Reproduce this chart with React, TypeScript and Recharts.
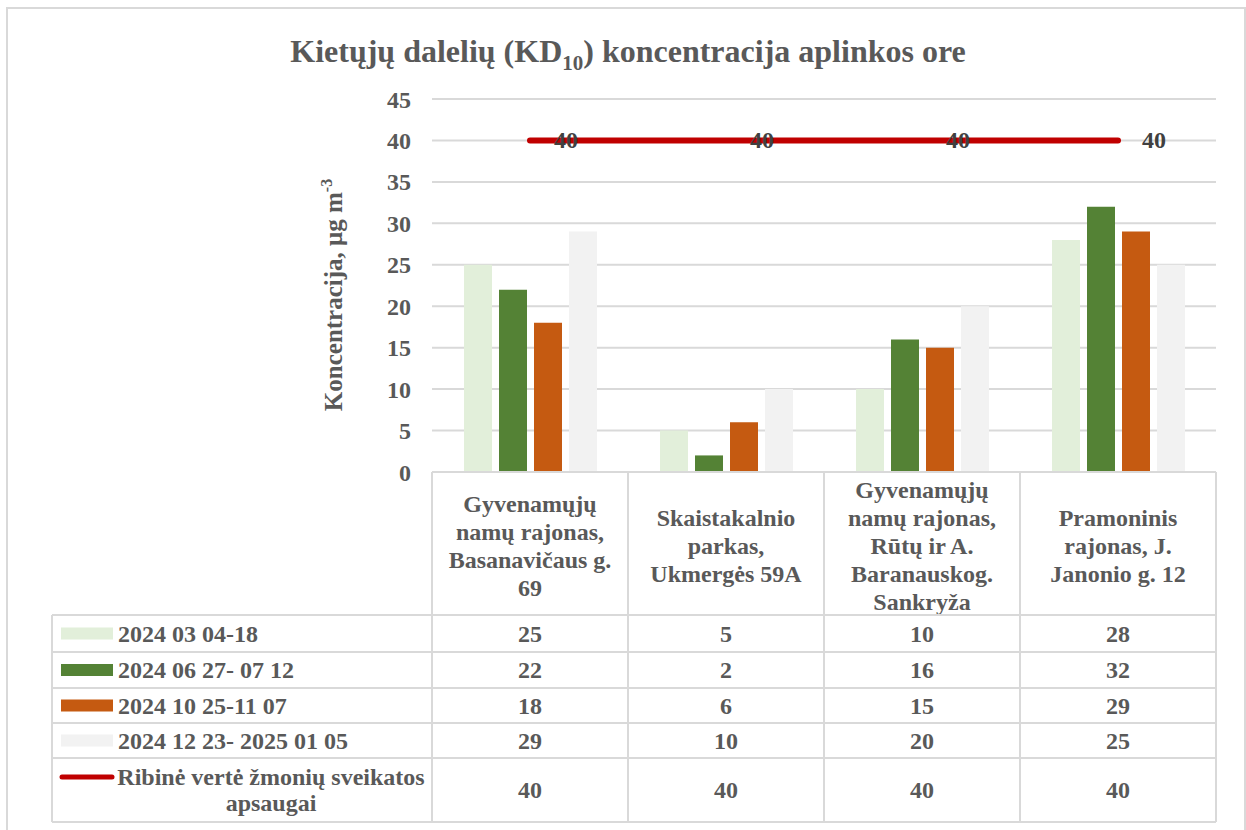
import { ComposedChart, Bar, Line, XAxis, YAxis, CartesianGrid, LabelList } from "recharts"

// categories (line breaks follow the original cell wrapping)
const categories = [
  "Gyvenamųjų\nnamų rajonas,\nBasanavičaus g.\n69",
  "Skaistakalnio\nparkas,\nUkmergės 59A",
  "Gyvenamųjų\nnamų rajonas,\nRūtų ir A.\nBaranauskog.\nSankryža",
  "Pramoninis\nrajonas, J.\nJanonio g. 12",
]

const seriesNames = ["2024 03 04-18", "2024 06 27- 07 12", "2024 10 25-11 07", "2024 12 23- 2025 01 05"]
const seriesColors = ["#E2EFDA", "#548235", "#C55A11", "#F2F2F2"]

const march = [25, 5, 10, 28]
const july = [22, 2, 16, 32]
const november = [18, 6, 15, 29]
const december = [29, 10, 20, 25]

const limitName = "Ribinė vertė žmonių sveikatos apsaugai"
const limit = [40, 40, 40, 40]

const yTicks = [0, 5, 10, 15, 20, 25, 30, 35, 40, 45]

const series = [march, july, november, december]
const data = categories.map((name, i) => ({
  name,
  s0: march[i],
  s1: july[i],
  s2: november[i],
  s3: december[i],
  limit: limit[i],
}))

// layout
const W = 1246
const H = 830
const PLOT_LEFT = 432
const PLOT_RIGHT = 1216
const PLOT_TOP = 99
const PLOT_BOTTOM = 472
const COL_W = (PLOT_RIGHT - PLOT_LEFT) / categories.length
const TABLE_LEFT = 52
const ROW_Y = [615, 652, 688, 723, 758, 822]
const HEADER_MID = 546
const GRID = "#d9d9d9"
const TEXT = "#595959"
const FONT = '"Liberation Serif", "Times New Roman", serif'
const FS = 24

function CategoryTick(props: any) {
  const { x, payload } = props
  const lines = String(payload.value).split("\n")
  return (
    <text textAnchor="middle" fill={TEXT} style={{ fontFamily: FONT, fontWeight: 700, fontSize: FS }}>
      {lines.map((l, i) => (
        <tspan key={i} x={x} y={HEADER_MID + (i - (lines.length - 1) / 2) * 28} dominantBaseline="central">
          {l}
        </tspan>
      ))}
    </text>
  )
}

function LimitLabel(props: any) {
  const { x, y, value } = props
  return (
    <text
      x={x + 36}
      y={y}
      textAnchor="middle"
      dominantBaseline="central"
      fill="#404040"
      style={{ fontFamily: FONT, fontWeight: 700, fontSize: FS }}
    >
      {value}
    </text>
  )
}

function Overlay() {
  const rows = [...seriesNames, limitName]
  const values = [...series, limit]
  return (
    <svg
      width={W}
      height={H}
      style={{ position: "absolute", left: 0, top: 0, pointerEvents: "none" }}
      fontFamily={FONT}
      fontWeight={700}
    >
      {/* outer chart border */}
      <rect x={7} y={8} width={1238} height={H} fill="none" stroke={GRID} strokeWidth={2} />

      {/* title */}
      <text x={628} y={62} textAnchor="middle" fill={TEXT} fontSize={32}>
        Kietųjų dalelių (KD
        <tspan fontSize={21} dy={8}>10</tspan>
        <tspan dy={-8}>) koncentracija aplinkos ore</tspan>
      </text>

      {/* y axis title */}
      <text transform="translate(342 295) rotate(-90)" textAnchor="middle" fill={TEXT} fontSize={25}>
        Koncentracija, μg m
        <tspan fontSize={16} dy={-10}>-3</tspan>
      </text>

      {/* table grid */}
      <line x1={PLOT_LEFT} x2={PLOT_RIGHT} y1={PLOT_BOTTOM} y2={PLOT_BOTTOM} stroke={GRID} strokeWidth={2} />
      {ROW_Y.map((y) => (
        <line key={y} x1={TABLE_LEFT} x2={PLOT_RIGHT} y1={y} y2={y} stroke={GRID} strokeWidth={2} />
      ))}
      <line x1={TABLE_LEFT} x2={TABLE_LEFT} y1={ROW_Y[0]} y2={ROW_Y[ROW_Y.length - 1]} stroke={GRID} strokeWidth={2} />
      {categories.concat([""]).map((_, i) => (
        <line
          key={i}
          x1={PLOT_LEFT + i * COL_W}
          x2={PLOT_LEFT + i * COL_W}
          y1={PLOT_BOTTOM}
          y2={ROW_Y[ROW_Y.length - 1]}
          stroke={GRID}
          strokeWidth={2}
        />
      ))}

      {/* rows */}
      {rows.map((name, r) => {
        const mid = (ROW_Y[r] + ROW_Y[r + 1]) / 2
        const isLine = r === rows.length - 1
        return (
          <g key={name}>
            {isLine ? (
              <line x1={62} x2={112} y1={mid - 13} y2={mid - 13} stroke="#C00000" strokeWidth={5} strokeLinecap="round" />
            ) : (
              <rect x={61} y={mid - 6} width={52} height={12} fill={seriesColors[r]} />
            )}
            {isLine ? (
              <text textAnchor="middle" fill={TEXT} fontSize={FS}>
                <tspan x={271} y={mid - 13} dominantBaseline="central">Ribinė vertė žmonių sveikatos</tspan>
                <tspan x={271} y={mid + 13} dominantBaseline="central">apsaugai</tspan>
              </text>
            ) : (
              <text x={118} y={mid} dominantBaseline="central" fill={TEXT} fontSize={FS}>
                {name}
              </text>
            )}
            {values[r].map((v, c) => (
              <text
                key={c}
                x={PLOT_LEFT + (c + 0.5) * COL_W}
                y={mid}
                textAnchor="middle"
                dominantBaseline="central"
                fill={TEXT}
                fontSize={FS}
              >
                {v}
              </text>
            ))}
          </g>
        )
      })}
    </svg>
  )
}

export default function App() {
  return (
    <div style={{ position: "absolute", left: 0, top: 0, width: W, height: H, background: "#fff" }}>
      <ComposedChart
        width={W}
        height={H}
        data={data}
        margin={{ top: PLOT_TOP, right: W - PLOT_RIGHT, bottom: H - PLOT_BOTTOM - 143, left: 0 }}
        barSize={28}
        barGap={7}
      >
        <CartesianGrid vertical={false} stroke={GRID} strokeWidth={2} />
        <XAxis dataKey="name" height={143} axisLine={false} tickLine={false} interval={0} tick={<CategoryTick />} />
        <YAxis
          width={PLOT_LEFT}
          domain={[0, 45]}
          ticks={yTicks}
          axisLine={false}
          tickLine={false}
          tickSize={0}
          tickMargin={21}
          tick={{ fill: TEXT, fontFamily: FONT, fontWeight: 700, fontSize: FS }}
        />
        {seriesNames.map((n, i) => (
          <Bar key={n} dataKey={`s${i}`} name={n} fill={seriesColors[i]} isAnimationActive={false} />
        ))}
        <Line
          dataKey="limit"
          name={limitName}
          stroke="#C00000"
          strokeWidth={6}
          strokeLinecap="round"
          dot={false}
          isAnimationActive={false}
        >
          <LabelList dataKey="limit" content={<LimitLabel />} />
        </Line>
      </ComposedChart>
      <Overlay />
    </div>
  )
}
